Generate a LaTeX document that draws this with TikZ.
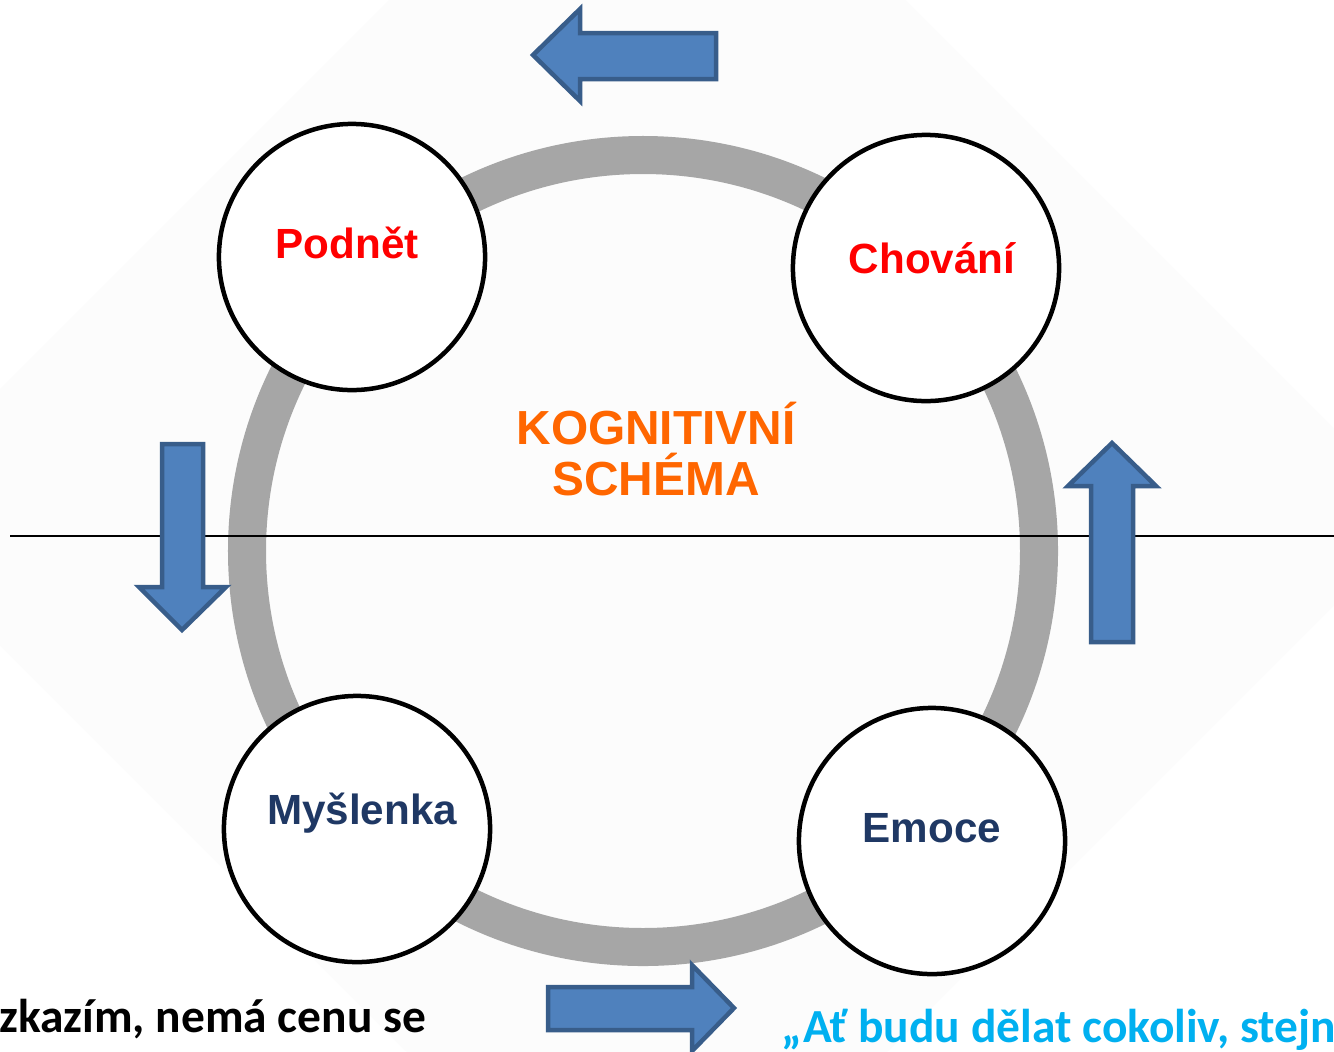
\documentclass[tikz,border=0pt]{standalone}
\usepackage{fontspec}
\setmainfont{Liberation Sans}
\newfontfamily\quotefont{Carlito}
\usepackage{tikz}

\definecolor{ringgray}{HTML}{A6A6A6}
\definecolor{arrowfill}{HTML}{4F81BD}
\definecolor{arrowline}{HTML}{385D8A}
\definecolor{stepred}{HTML}{FF0000}
\definecolor{stepnavy}{HTML}{1F3864}
\definecolor{schemaorange}{HTML}{FF6600}
\definecolor{quoteblue}{HTML}{00B0F0}
\definecolor{backshade}{HTML}{FCFCFC}

\begin{document}
\begin{tikzpicture}[x=0.01cm,y=-0.01cm,
    bubble/.style={circle,draw=black,line width=0.045cm,fill=white,minimum size=2.66cm,inner sep=0pt},
    steptext/.style={font=\bfseries\fontsize{12}{14}\selectfont},
    blockarrow/.style={fill=arrowfill,draw=arrowline,line width=0.045cm,line join=miter},
    quote/.style={font=\quotefont\bfseries\fontsize{13.5}{15}\selectfont,inner sep=0pt}]

  \useasboundingbox (0,0) rectangle (1334,1051);
  \fill[white] (0,0) rectangle (1334,1051);

  % faint background
  \fill[backshade] (647,-258) -- (1422,517) -- (647,1292) -- (-128,517) -- cycle;

  % gray ring
  \coordinate (ringcenter) at (643,551);
  \draw[ringgray,line width=0.38cm] (ringcenter) circle (396);

  % the line across
  \coordinate (lineleft) at (10,536);
  \coordinate (lineright) at (1334,536);
  \draw[black,line width=0.45pt] (lineleft) -- (lineright);

  % the four steps
  \node[bubble] (podnet) at (352,257) {};
  \node[bubble] (chovani) at (926,268) {};
  \node[bubble] (myslenka) at (357,829) {};
  \node[bubble] (emoce) at (932,841) {};

  \node[steptext,stepred] (podnettext) at (347,243) {Podnět};
  \node[steptext,stepred] (chovanitext) at (932,258) {Chování};
  \node[steptext,stepnavy] (myslenkatext) at (362,813) {Myšlenka};
  \node[steptext,stepnavy] (emocetext) at (932,828) {Emoce};

  \node[font=\bfseries\fontsize{13.6}{14.4}\selectfont,schemaorange,align=center]
    (schema) at (656,449) {KOGNITIVNÍ\\SCHÉMA};

  % block arrows
  \draw[blockarrow] (533,55) -- (580,9) -- (580,33) -- (716,33) -- (716,79) -- (580,79) -- (580,101) -- cycle;
  \draw[blockarrow] (162,444) -- (203,444) -- (203,587) -- (226,587) -- (182,630) -- (139,587) -- (162,587) -- cycle;
  \draw[blockarrow] (1112,443) -- (1156,486) -- (1133,486) -- (1133,642) -- (1091,642) -- (1091,486) -- (1068,486) -- cycle;
  \draw[blockarrow] (548,987) -- (692,987) -- (692,965) -- (734,1008) -- (692,1051) -- (692,1030) -- (548,1030) -- cycle;

  % cut off texts
  \node[quote,black,anchor=base east] (leftquote) at (427,1032) {zkazím, nemá cenu se};
  \node[quote,quoteblue,anchor=base west] (rightquote) at (781,1042) {„Ať budu dělat cokoliv, stejn};

\end{tikzpicture}
\end{document}
